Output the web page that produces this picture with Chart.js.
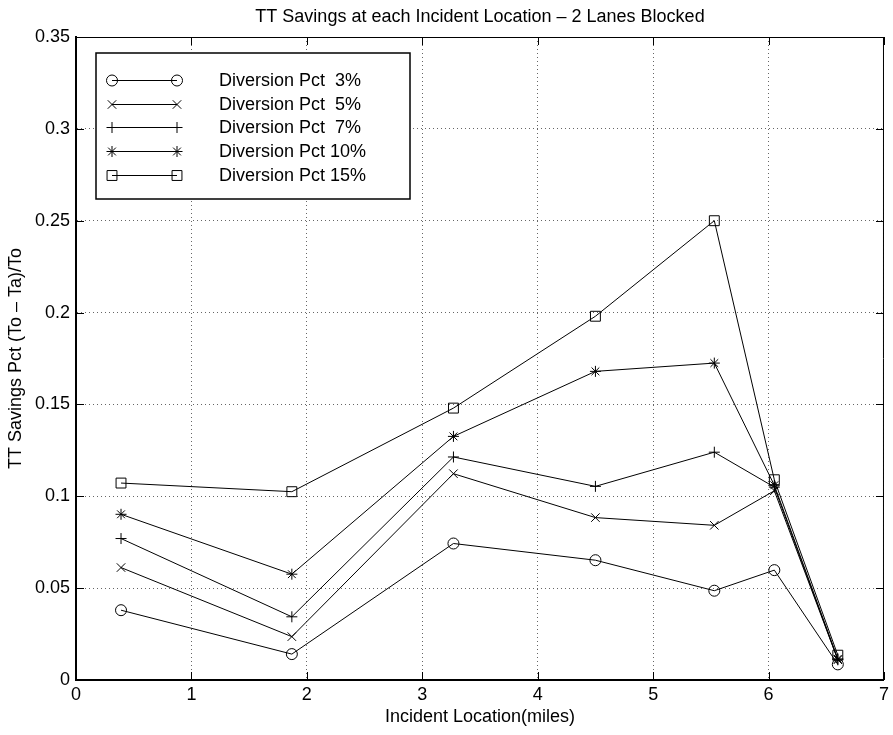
<!DOCTYPE html>
<html>
<head>
<meta charset="utf-8">
<style>
  html, body { margin: 0; padding: 0; background: #fff; }
  #wrap { width: 893px; height: 735px; }
</style>
<script src="https://cdn.jsdelivr.net/npm/chart.js@4.4.0/dist/chart.umd.min.js"></script>
</head>
<body>
<div id="wrap"><canvas id="chart"></canvas></div>
<script>
// incident locations (miles) and TT savings per diversion pct
const locations = [0.39, 1.87, 3.27, 4.50, 5.53, 6.05, 6.60];
const pct3  = [0.0380, 0.0141, 0.0743, 0.0652, 0.0486, 0.0598, 0.0085];
const pct5  = [0.0612, 0.0236, 0.1123, 0.0884, 0.0842, 0.1030, 0.0110];
const pct7  = [0.0770, 0.0344, 0.1214, 0.1054, 0.1240, 0.1050, 0.0110];
const pct10 = [0.0902, 0.0576, 0.1326, 0.1680, 0.1725, 0.1060, 0.0115];
const pct15 = [0.1072, 0.1025, 0.1480, 0.1980, 0.2500, 0.1090, 0.0135];
const seriesLabels = ['Diversion Pct  3%', 'Diversion Pct  5%', 'Diversion Pct  7%', 'Diversion Pct 10%', 'Diversion Pct 15%'];
const xTicks = [0, 1, 2, 3, 4, 5, 6, 7];
const yTicks = [0, 0.05, 0.1, 0.15, 0.2, 0.25, 0.3, 0.35];
const yTickLabels = ['0', '0.05', '0.1', '0.15', '0.2', '0.25', '0.3', '0.35'];
const chartTitle = 'TT Savings at each Incident Location \u2013 2 Lanes Blocked';

const FONT = "'Liberation Sans', Arial, Helvetica, sans-serif";
const markers = ['circle', 'crossRot', 'cross', 'star', 'rect'];
const radii = [5.5, 6, 5.5, 5.5, 7];

function pts(vals) {
  return vals.map((v, i) => ({ x: locations[i], y: v }));
}

const allSeries = [pct3, pct5, pct7, pct10, pct15];
const datasets = allSeries.map((s, i) => ({
  label: seriesLabels[i],
  data: pts(s),
  borderColor: '#000',
  borderWidth: 1,
  pointStyle: markers[i],
  pointRadius: radii[i],
  pointBorderColor: '#000',
  pointBorderWidth: 1,
  pointBackgroundColor: 'rgba(0,0,0,0)',
  fill: false,
  tension: 0
}));

// marker drawing for the legend, same shapes as chart.js
function drawMarker(ctx, style, x, y, r) {
  ctx.beginPath();
  if (style === 'circle') {
    ctx.arc(x, y, r, 0, Math.PI * 2);
  } else if (style === 'rect') {
    const s = r * Math.SQRT1_2;
    ctx.rect(x - s, y - s, 2 * s, 2 * s);
  } else {
    if (style === 'cross' || style === 'star') {
      ctx.moveTo(x - r, y); ctx.lineTo(x + r, y);
      ctx.moveTo(x, y - r); ctx.lineTo(x, y + r);
    }
    if (style === 'crossRot' || style === 'star') {
      const d = r * Math.SQRT1_2;
      ctx.moveTo(x - d, y - d); ctx.lineTo(x + d, y + d);
      ctx.moveTo(x - d, y + d); ctx.lineTo(x + d, y - d);
    }
  }
  ctx.stroke();
}

const matlabFrame = {
  id: 'matlabFrame',
  afterDatasetsDraw(chart) {
    const { ctx, chartArea: a, scales } = chart;
    ctx.save();
    ctx.strokeStyle = '#000';
    // top and right box edges
    ctx.lineWidth = 1;
    ctx.beginPath();
    ctx.moveTo(a.left, a.top + 0.5); ctx.lineTo(a.right, a.top + 0.5);
    ctx.moveTo(a.right - 0.5, a.top); ctx.lineTo(a.right - 0.5, a.bottom);
    ctx.stroke();
    // inward ticks
    const tl = 8;
    ctx.beginPath();
    xTicks.forEach(v => {
      const px = Math.round(scales.x.getPixelForValue(v)) + 0.5;
      ctx.moveTo(px, a.bottom); ctx.lineTo(px, a.bottom - tl);
      ctx.moveTo(px, a.top); ctx.lineTo(px, a.top + tl);
    });
    yTicks.forEach(v => {
      const py = Math.round(scales.y.getPixelForValue(v)) + 0.5;
      ctx.moveTo(a.left, py); ctx.lineTo(a.left + tl, py);
      ctx.moveTo(a.right, py); ctx.lineTo(a.right - tl, py);
    });
    ctx.stroke();

    // title centred over the plot area
    ctx.fillStyle = '#000';
    ctx.font = '18px ' + FONT;
    ctx.textAlign = 'center';
    ctx.textBaseline = 'alphabetic';
    ctx.fillText(chartTitle, (a.left + a.right) / 2, 22);

    // legend box
    const bx = 96, by = 53, bw = 314, bh = 146;
    ctx.fillStyle = '#fff';
    ctx.fillRect(bx, by, bw, bh);
    ctx.lineWidth = 1.5;
    ctx.strokeRect(bx, by, bw, bh);
    ctx.lineWidth = 1;
    ctx.font = '18px ' + FONT;
    ctx.textAlign = 'left';
    ctx.textBaseline = 'middle';
    ctx.fillStyle = '#000';
    chart.data.datasets.forEach((ds, i) => {
      const y = Math.round(80 + i * 23.7) + 0.5;
      ctx.beginPath();
      ctx.moveTo(112, y); ctx.lineTo(177, y);
      ctx.stroke();
      drawMarker(ctx, ds.pointStyle, 112, y, ds.pointRadius);
      drawMarker(ctx, ds.pointStyle, 177, y, ds.pointRadius);
      ctx.fillText(ds.label, 219, y + 1);
    });
    ctx.restore();
  }
};

const gridStyle = {
  color: 'rgba(0,0,0,0.6)',
  lineWidth: 1,
  drawTicks: false
};

new Chart(document.getElementById('chart'), {
  type: 'line',
  data: { datasets: datasets },
  options: {
    responsive: true,
    maintainAspectRatio: false,
    animation: false,
    layout: { padding: { top: 37, right: 5, bottom: 0, left: 0 } },
    plugins: {
      legend: { display: false },
      tooltip: { enabled: false },
      title: { display: false }
    },
    scales: {
      x: {
        type: 'linear',
        min: 0,
        max: 7,
        afterBuildTicks: s => { s.ticks = xTicks.map(v => ({ value: v })); },
        afterFit: s => { s.height = 55; },
        grid: gridStyle,
        border: { display: true, color: '#000', width: 2, dash: [1, 3] },
        ticks: {
          color: '#000',
          padding: 4,
          maxRotation: 0,
          font: { family: FONT, size: 18 },
          callback: v => String(v)
        },
        title: {
          display: true,
          text: 'Incident Location(miles)',
          color: '#000',
          font: { family: FONT, size: 18 },
          padding: { top: 0, bottom: 7 }
        }
      },
      y: {
        type: 'linear',
        min: 0,
        max: 0.35,
        afterBuildTicks: s => { s.ticks = yTicks.map(v => ({ value: v })); },
        afterFit: s => { s.width = 76; },
        grid: gridStyle,
        border: { display: true, color: '#000', width: 2, dash: [1, 3] },
        ticks: {
          color: '#000',
          padding: 6,
          font: { family: FONT, size: 18 },
          callback: (v, i) => yTickLabels[i]
        },
        title: {
          display: true,
          text: 'TT Savings Pct (To \u2013 Ta)/To',
          color: '#000',
          font: { family: FONT, size: 18 },
          padding: { top: 5, bottom: 0 }
        }
      }
    }
  },
  plugins: [matlabFrame]
});
</script>
</body>
</html>
